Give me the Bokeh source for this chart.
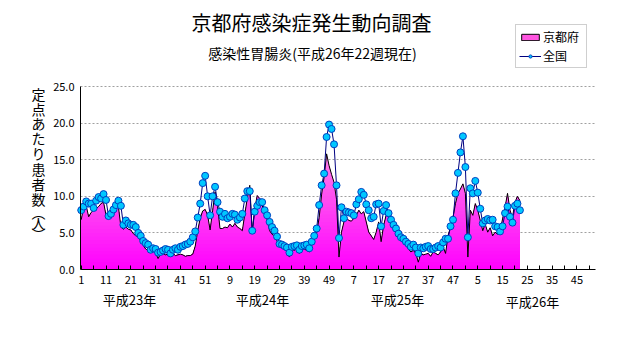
import numpy as np
from bokeh.plotting import figure
from bokeh.models import FixedTicker, Label, Legend, LegendItem, Range1d
from bokeh.embed import file_html
from bokeh.resources import INLINE

# ---------------- data ----------------
weeks = list(range(1, 179))  # consecutive week index (H23 w1 .. H26 w22)

kyoto = [
    6.8, 8.6, 8.7, 7.2, 7.8, 8.1, 8.3, 8.6, 9.0, 9.2,
    7.4, 7.6, 8.3, 8.5, 8.4, 8.6, 5.8, 5.5, 5.8, 5.5,
    5.4, 4.9, 4.6, 4.5, 3.9, 3.3, 2.8, 2.6, 2.6, 2.5,
    2.3, 1.5, 2.1, 2.2, 2.0, 2.1, 2.0, 2.2, 1.9, 2.0,
    2.1, 2.0, 1.8, 1.9, 1.9, 2.1, 3.2, 5.3, 7.0, 8.0,
    8.2, 7.4, 5.4, 8.0, 10.6, 8.6, 5.6, 5.6, 5.8, 5.7,
    6.2, 5.8, 6.3, 5.8, 5.6, 5.3, 7.6, 9.7, 11.5, 5.1,
    8.3, 10.1, 9.7, 8.7, 8.0, 6.8, 5.3, 4.8, 4.6, 3.9,
    3.3, 3.1, 2.8, 2.4, 1.7, 2.8, 2.6, 3.3, 2.2, 2.8,
    2.8, 2.6, 2.4, 3.3, 4.6, 5.0, 7.1, 10.3, 12.6, 15.8,
    14.2, 13.0, 11.9, 9.6, 1.7, 5.1, 6.5, 7.0, 6.7, 6.6,
    7.0, 7.4, 8.1, 7.6, 7.9, 6.5, 5.1, 4.6, 4.1, 5.1,
    6.5, 3.8, 6.0, 7.4, 7.2, 6.5, 6.0, 5.3, 4.6, 4.2,
    3.7, 3.3, 2.8, 2.4, 2.6, 2.2, 1.0, 2.2, 2.0, 2.1,
    2.2, 1.8, 2.4, 2.2, 2.0, 2.4, 3.1, 2.2, 4.6, 5.8,
    7.1, 9.0, 10.4, 11.0, 11.7, 10.4, 1.7, 8.1, 7.4, 9.0,
    8.1, 6.7, 5.3, 6.2, 5.1, 5.7, 4.6, 5.1, 4.8, 5.3,
    6.9, 8.5, 10.4, 8.1, 7.1, 9.2, 10.0, 9.4,
]

national = [
    8.1, 8.6, 9.3, 9.0, 9.0, 8.4, 9.4, 9.9, 9.7, 10.3,
    9.5, 7.3, 7.6, 8.2, 8.8, 9.4, 8.7, 6.1, 6.7, 6.3,
    6.1, 6.1, 5.8, 5.0, 4.6, 3.9, 3.6, 3.4, 2.7, 2.9,
    2.8, 2.3, 2.4, 2.6, 2.8, 2.7, 2.2, 2.7, 2.9, 2.7,
    3.1, 3.2, 3.4, 3.5, 3.8, 4.4, 5.2, 7.1, 9.0, 11.8,
    12.8, 10.0, 7.4, 10.0, 11.3, 9.2, 7.9, 7.2, 7.6, 7.0,
    7.2, 7.6, 7.5, 6.8, 7.1, 7.6, 9.7, 10.7, 10.7, 5.3,
    7.9, 8.7, 9.2, 9.2, 8.1, 7.4, 6.5, 5.8, 5.3, 4.5,
    3.5, 3.4, 3.2, 3.0, 2.3, 3.1, 3.2, 3.3, 2.7, 3.2,
    3.3, 3.4, 2.9, 3.8, 4.6, 5.6, 8.8, 11.5, 13.1, 18.1,
    19.8, 19.2, 17.1, 11.5, 4.3, 8.5, 7.0, 7.9, 7.8, 7.7,
    7.4, 8.9, 9.6, 10.6, 10.2, 8.9, 8.1, 7.0, 7.2, 8.9,
    9.0, 5.9, 8.0, 8.8, 7.7, 6.8, 6.1, 5.6, 4.9, 4.4,
    4.2, 3.8, 3.5, 3.1, 3.4, 3.0, 2.2, 3.0, 2.9, 3.1,
    3.2, 2.8, 2.8, 3.0, 3.2, 3.0, 3.7, 4.2, 4.2, 5.9,
    6.8, 10.4, 13.2, 16.0, 18.2, 14.0, 4.4, 11.1, 10.4, 12.1,
    10.5, 8.3, 6.3, 6.7, 6.9, 6.7, 6.8, 5.9, 5.8, 5.2,
    5.9, 7.7, 8.6, 7.2, 6.4, 8.7, 9.0, 8.1,
]

x_tick_positions = list(range(1, 209, 10))
x_tick_labels = ["1", "11", "21", "31", "41", "51", "9", "19", "29", "39", "49",
                 "7", "17", "27", "37", "47", "5", "15", "25", "35", "45"]
x_minor_positions = list(range(6, 209, 10))
y_ticks = [0, 5, 10, 15, 20, 25]
year_labels = ["平成23年", "平成24年", "平成25年", "平成26年"]
series_names = ["京都府", "全国"]
title_text = "京都府感染症発生動向調査"
subtitle_text = "感染性胃腸炎(平成26年22週現在)"
ylabel_chars = ["定", "点", "あ", "た", "り", "患", "者", "数", "︵", "人", "︶"]

# ---------------- layout (plot area in canvas pixels) ----------------
W, H = 631, 347
FL, FT, FW, FH = 80, 86, 515, 183   # plot area left/top/width/height
PX0, PX1 = 0.7, 208.5               # data x at left/right edge of plot area
PY0, PY1 = 0.0, 25.0                # data y at bottom/top of plot area
sx = (PX1 - PX0) / FW
sy = (PY1 - PY0) / FH


def px2x(px):
    return PX0 + (px - FL) * sx


def py2y(py):
    return PY0 + (FT + FH - py) * sy


FONT = "Noto Sans CJK JP"

# the frame covers the whole canvas; axes are pinned at fixed locations
p = figure(width=W, height=H, title=None,
           min_border_left=0, min_border_top=0,
           min_border_right=0, min_border_bottom=0,
           x_range=Range1d(px2x(0), px2x(W)), y_range=Range1d(py2y(H), py2y(0)),
           output_backend="svg", toolbar_location=None,
           background_fill_color="white", border_fill_color="white")
p.outline_line_color = None

# ---------------- gradient area for Kyoto ----------------
k_arr = np.array(kyoto)
c_bot = np.array([255, 0, 255])
c_top = np.array([255, 200, 220])
step = 0.5
levels = np.arange(np.ceil(k_arr.max() / step) * step + step, 0, -step)
for L in levels:
    t = (L - step / 2) / PY1
    c = (c_bot + (c_top - c_bot) * t).astype(int)
    p.varea(x=weeks, y1=0, y2=np.minimum(k_arr, L),
            fill_color="#%02x%02x%02x" % tuple(c), fill_alpha=1.0)
p.line(weeks, kyoto, line_color="black", line_width=1)

# ---------------- national line ----------------
nl = p.line(weeks, national, line_color="#000080", line_width=1)
ns = p.scatter(weeks, national, size=7, marker="circle",
               fill_color="#00C8FF", line_color="#0040C0", line_width=1)

# legend proxy for the area (draws nothing in the plot)
kq = p.quad(left=[np.nan], right=[np.nan], top=[np.nan], bottom=[np.nan],
            fill_color="#FF55E0", line_color="black", line_width=1)

# ---------------- axes ----------------
xa = p.xaxis[0]
xa.fixed_location = 0
xa.bounds = (PX0, PX1)
xa.ticker = FixedTicker(ticks=sorted(x_tick_positions + x_minor_positions))
overrides = {t: "" for t in x_minor_positions}
overrides.update({t: lab for t, lab in zip(x_tick_positions, x_tick_labels)})
xa.major_label_overrides = overrides
xa.major_tick_in = 4
xa.major_tick_out = 0
xa.minor_tick_line_color = None
xa.major_label_standoff = 6
xa.major_label_text_font = FONT
xa.major_label_text_font_size = "11px"
xa.major_label_text_color = "black"
xa.axis_line_color = "black"
xa.major_tick_line_color = "black"

ya = p.yaxis[0]
ya.fixed_location = PX0
ya.bounds = (PY0, PY1)
ya.ticker = FixedTicker(ticks=y_ticks)
ya.major_label_overrides = {t: "%.1f" % t for t in y_ticks}
ya.major_tick_in = 0
ya.major_tick_out = 0
ya.minor_tick_line_color = None
ya.major_label_standoff = 6
ya.major_label_text_font = FONT
ya.major_label_text_font_size = "11px"
ya.major_label_text_color = "black"
ya.axis_line_color = "black"

p.xgrid.grid_line_color = None
yg = p.ygrid[0]
yg.ticker = FixedTicker(ticks=y_ticks[1:])
yg.bounds = (PY0, PY1)
yg.cross_bounds = (PX0, PX1)
yg.grid_line_color = "#A0A0A0"
yg.grid_line_dash = "2 2"
yg.grid_line_width = 1

# ---------------- texts ----------------
p.add_layout(Label(x=px2x(311), y=py2y(22), text=title_text,
                   text_font=FONT, text_font_size="20px", text_color="black",
                   text_align="center", text_baseline="middle"))
p.add_layout(Label(x=px2x(312), y=py2y(52), text=subtitle_text,
                   text_font=FONT, text_font_size="14px", text_color="black",
                   text_align="center", text_baseline="middle"))

ylabel_py = [93, 108, 122, 137, 152, 168, 183, 198, 211, 222, 233]
for ch, py in zip(ylabel_chars, ylabel_py):
    p.add_layout(Label(x=px2x(38), y=py2y(py), text=ch,
                       text_font=FONT, text_font_size="14px", text_color="black",
                       text_align="center", text_baseline="middle"))

year_px = [129, 262, 397, 532]
year_py = [299, 299, 299, 301]
for lab, px, py in zip(year_labels, year_px, year_py):
    p.add_layout(Label(x=px2x(px), y=py2y(py), text=lab,
                       text_font=FONT, text_font_size="13px", text_color="black",
                       text_align="center", text_baseline="middle"))

# ---------------- legend ----------------
legend = Legend(items=[LegendItem(label=series_names[0], renderers=[kq]),
                       LegendItem(label=series_names[1], renderers=[nl, ns])],
                location=(515, H - 68))
legend.label_text_font = FONT
legend.label_text_font_size = "12px"
legend.label_text_color = "black"
legend.glyph_width = 22
legend.glyph_height = 8
legend.label_height = 14
legend.label_width = 40
legend.label_standoff = 2
legend.spacing = 2
legend.padding = 3
legend.margin = 0
legend.border_line_color = "#A0A0A0"
legend.background_fill_color = "white"
legend.background_fill_alpha = 1.0
p.add_layout(legend)

open("out.html", "w").write(file_html(p, INLINE))
